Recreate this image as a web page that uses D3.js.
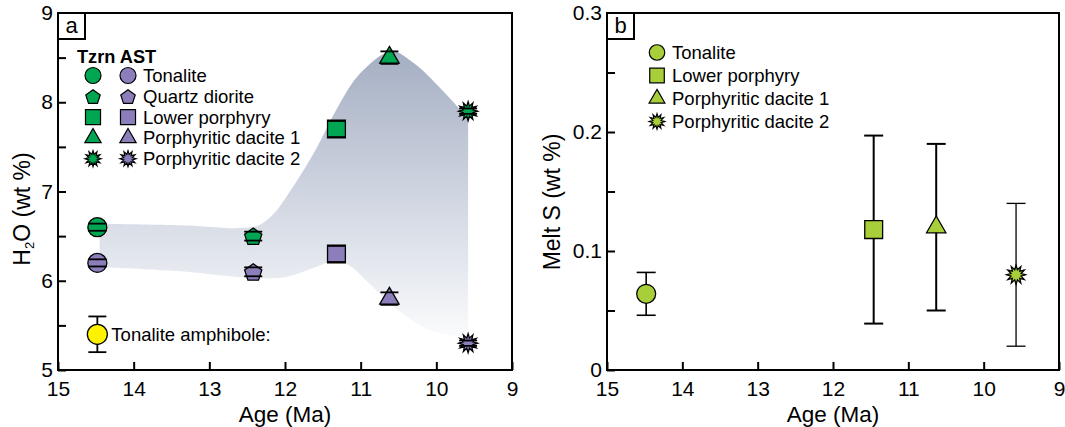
<!DOCTYPE html>
<html>
<head>
<meta charset="utf-8">
<script src="https://cdn.jsdelivr.net/npm/d3@7"></script>
<style>
  html, body { margin: 0; padding: 0; background: #fff; }
  svg { display: block; font-family: "Liberation Sans", Arial, sans-serif; }
</style>
</head>
<body>
<svg id="chart" width="1065" height="427"></svg>
<script>
// ---------------- DATA ----------------
const rockTypes = ["Tonalite", "Quartz diorite", "Lower porphyry", "Porphyritic dacite 1", "Porphyritic dacite 2"];
const rockShapes = ["circle", "pentagon", "square", "triangle", "star"];
const rockAges = [14.48, 12.42, 11.32, 10.62, 9.58];
const h2oTzrn = [6.6, 6.5, 7.7, 8.5, 7.9];
const h2oTzrnErr = [0.04, 0.05, 0.09, 0.07, 0.03];
const h2oAst = [6.2, 6.1, 6.3, 5.8, 5.3];
const h2oAstErr = [0.04, 0.05, 0.09, 0.07, 0.03];
const amphAge = [14.48];
const amphH2o = [5.4];
const amphErr = [0.2];

// envelope (shaded field) outline
const envUpper = [[14.45, 6.64], [13.3, 6.62], [12.6, 6.59], [12.35, 6.62], [12.15, 6.75], [11.95, 6.98],
                  [11.6, 7.46], [11.3, 7.95], [11.0, 8.33], [10.6, 8.57], [10.3, 8.44], [9.95, 8.16], [9.58, 7.82]];
const envLower = [[9.58, 5.27], [9.7, 5.36], [10.1, 5.45], [10.55, 5.7], [10.9, 5.98], [11.15, 6.17],
                  [11.35, 6.22], [11.6, 6.15], [12.0, 6.04], [12.6, 6.04], [13.3, 6.1], [14.45, 6.15]];

const sTypes = ["Tonalite", "Lower porphyry", "Porphyritic dacite 1", "Porphyritic dacite 2"];
const sShapes = ["circle", "square", "triangle", "star"];
const sAges = [14.48, 11.46, 10.63, 9.57];
const meltS = [0.064, 0.118, 0.12, 0.08];
const meltSErr = [0.018, 0.079, 0.07, 0.06];

const xTicks = [15, 14, 13, 12, 11, 10, 9];
const h2oTicks = [5, 6, 7, 8, 9];
const h2oMinor = [5.5, 6.5, 7.5, 8.5];
const sTicks = [0, 0.1, 0.2, 0.3];
const sMinor = [0.05, 0.15, 0.25];

// ---------------- STYLE ----------------
const C_TZRN = "#00a651", C_AST = "#8c7dbb", C_AMPH = "#fff200", C_S = "#a8cf3a";
const sErrWidth = [1.6, 2, 2, 1.3];

const svg = d3.select("#chart");

function shapePath(type, s) {
  const r = s / 2;
  if (type === "circle") return d3.symbol(d3.symbolCircle, Math.PI * r * r)();
  if (type === "square") { const h = s * 0.47; return `M${-h},${-h}H${h}V${h}H${-h}Z`; }
  if (type === "triangle") {
    const side = s * 1.02, ht = side * Math.sqrt(3) / 2;
    return `M0,${-ht * 2 / 3}L${side / 2},${ht / 3}L${-side / 2},${ht / 3}Z`;
  }
  if (type === "pentagon") {
    const rr = r * 0.95; let p = "";
    for (let i = 0; i < 5; i++) {
      const a = -Math.PI / 2 + i * 2 * Math.PI / 5;
      p += (i ? "L" : "M") + (rr * Math.cos(a)).toFixed(2) + "," + (rr * Math.sin(a) + 1).toFixed(2);
    }
    return p + "Z";
  }
  if (type === "star") {
    const n = 12, ro = r * 1.0, ri = r * 0.55; let p = "";
    for (let i = 0; i < 2 * n; i++) {
      const a = -Math.PI / 2 + i * Math.PI / n, rad = i % 2 ? ri : ro;
      p += (i ? "L" : "M") + (rad * Math.cos(a)).toFixed(2) + "," + (rad * Math.sin(a)).toFixed(2);
    }
    return p + "Z";
  }
}

function drawMarker(g, type, x, y, size, fill, sw) {
  g.append("path").attr("d", shapePath(type, size))
    .attr("transform", `translate(${x},${y})`)
    .attr("fill", fill).attr("stroke", "#000").attr("stroke-width", sw || 1.2)
    .attr("stroke-linejoin", "miter");
}

function errBar(g, x, y0, y1, sw) {
  g.append("line").attr("x1", x).attr("x2", x).attr("y1", y0).attr("y2", y1)
    .attr("stroke", "#000").attr("stroke-width", sw);
}
function caps(g, x, y0, y1, capW, sw) {
  [y0, y1].forEach(yy => g.append("line").attr("x1", x - capW / 2).attr("x2", x + capW / 2)
    .attr("y1", yy).attr("y2", yy).attr("stroke", "#000").attr("stroke-width", sw));
}

function frameAxes(x, y, majorY, minorY, yFmt, panelLabel) {
  const g = svg.append("g");
  const [x0, x1] = x.range(), [yb, yt] = y.range();
  const ax = g.append("g").attr("transform", `translate(0,${yb})`)
    .call(d3.axisBottom(x).tickValues(xTicks).tickSize(-8).tickPadding(11).tickFormat(d3.format("d")));
  const ayMin = g.append("g").attr("transform", `translate(${x0},0)`)
    .call(d3.axisLeft(y).tickValues(minorY).tickSize(-8).tickFormat(""));
  const ay = g.append("g").attr("transform", `translate(${x0},0)`)
    .call(d3.axisLeft(y).tickValues(majorY).tickSize(-8).tickPadding(5).tickFormat(yFmt));
  [ax, ay, ayMin].forEach(a => {
    a.select(".domain").remove();
    a.selectAll(".tick line").attr("stroke", "#000").attr("stroke-width", 2);
    a.selectAll("text").attr("font-size", 21).attr("fill", "#000")
      .attr("font-family", "'Liberation Sans', Arial, sans-serif");
  });
  g.append("rect").attr("x", x0).attr("y", yt).attr("width", x1 - x0).attr("height", yb - yt)
    .attr("fill", "none").attr("stroke", "#000").attr("stroke-width", 2);
  g.append("rect").attr("x", x0).attr("y", yt).attr("width", 27).attr("height", 26)
    .attr("fill", "#fff").attr("stroke", "#000").attr("stroke-width", 2);
  g.append("text").attr("x", x0 + 13.5).attr("y", yt + 20).attr("text-anchor", "middle")
    .attr("font-size", 22).text(panelLabel);
  return g;
}

// ================= PANEL A =================
const xa = d3.scaleLinear().domain([15, 9]).range([58, 512]);
const ya = d3.scaleLinear().domain([5, 9]).range([370, 13]);

const defs = svg.append("defs");
const grad = defs.append("linearGradient").attr("id", "envGrad")
  .attr("gradientUnits", "userSpaceOnUse")
  .attr("x1", 0).attr("x2", 0).attr("y1", ya(8.6)).attr("y2", ya(5.2));
grad.append("stop").attr("offset", 0).attr("stop-color", "#a4aec2");
grad.append("stop").attr("offset", 0.6).attr("stop-color", "#dadfe8");
grad.append("stop").attr("offset", 1).attr("stop-color", "#ffffff");

const lineGen = d3.line().x(d => xa(d[0])).y(d => ya(d[1])).curve(d3.curveCatmullRom.alpha(0.5));
const upperStr = lineGen(envUpper);
const lowerStr = lineGen(envLower);
svg.append("path").attr("d", upperStr + "L" + lowerStr.slice(1) + "Z")
  .attr("fill", "url(#envGrad)").attr("stroke", "none");

frameAxes(xa, ya, h2oTicks, h2oMinor, d3.format("d"), "a");

const gA = svg.append("g");
function drawPointA(type, age, val, err, fill) {
  const px = xa(age), py = ya(val), y0 = ya(val + err), y1 = ya(val - err);
  errBar(gA, px, y0, y1, 1.8);
  drawMarker(gA, type, px, py, 19, fill, 1.3);
  caps(gA, px, y0, y1, 18, 1.8);
}
rockTypes.forEach((t, i) => {
  drawPointA(rockShapes[i], rockAges[i], h2oTzrn[i], h2oTzrnErr[i], C_TZRN);
  drawPointA(rockShapes[i], rockAges[i], h2oAst[i], h2oAstErr[i], C_AST);
});
amphAge.forEach((a, i) => {
  const px = xa(a), y0 = ya(amphH2o[i] + amphErr[i]), y1 = ya(amphH2o[i] - amphErr[i]);
  errBar(gA, px, y0, y1, 1.8);
  caps(gA, px, y0, y1, 18, 1.8);
  drawMarker(gA, "circle", px, ya(amphH2o[i]), 20, C_AMPH, 1.3);
  gA.append("text").attr("x", px + 14).attr("y", ya(amphH2o[i]) + 6.5)
    .attr("font-size", 18.5).text("Tonalite amphibole:");
});

// legend A
const lgA = svg.append("g");
lgA.append("text").attr("x", 77).attr("y", 63).attr("font-size", 18.2).attr("font-weight", "bold").text("Tzrn AST");
rockTypes.forEach((t, i) => {
  const cy = 75.5 + i * 20.8;
  drawMarker(lgA, rockShapes[i], 93, cy, 16, C_TZRN, 1.2);
  drawMarker(lgA, rockShapes[i], 128, cy, 16, C_AST, 1.2);
  lgA.append("text").attr("x", 143).attr("y", cy + 6.5).attr("font-size", 18.5).text(t);
});

// axis titles A
svg.append("text").attr("x", 285).attr("y", 422).attr("text-anchor", "middle").attr("font-size", 22.5).text("Age (Ma)");
const yt = svg.append("text").attr("transform", "translate(30,209) rotate(-90)").attr("text-anchor", "middle").attr("font-size", 23);
yt.append("tspan").text("H");
yt.append("tspan").attr("font-size", 13).attr("dy", 4).text("2");
yt.append("tspan").attr("dy", -4).text("O (wt %)");

// ================= PANEL B =================
const xb = d3.scaleLinear().domain([15, 9]).range([607, 1059]);
const yb = d3.scaleLinear().domain([0, 0.3]).range([370, 13]);
frameAxes(xb, yb, sTicks, sMinor, d => d === 0 ? "0" : d3.format(".1f")(d), "b");

const gB = svg.append("g");
sTypes.forEach((t, i) => {
  const px = xb(sAges[i]), y0 = yb(meltS[i] + meltSErr[i]), y1 = yb(meltS[i] - meltSErr[i]);
  errBar(gB, px, y0, y1, sErrWidth[i]);
  caps(gB, px, y0, y1, 19, sErrWidth[i]);
  drawMarker(gB, sShapes[i], px, yb(meltS[i]), 19, C_S, 1.3);
});

// legend B
const lgB = svg.append("g");
sTypes.forEach((t, i) => {
  const cy = 52.5 + i * 23;
  drawMarker(lgB, sShapes[i], 657, cy, 15.5, C_S, 1.2);
  lgB.append("text").attr("x", 672).attr("y", cy + 6.5).attr("font-size", 18.5).text(t);
});

svg.append("text").attr("x", 833).attr("y", 422).attr("text-anchor", "middle").attr("font-size", 22.5).text("Age (Ma)");
svg.append("text").attr("transform", "translate(560,202) rotate(-90)").attr("text-anchor", "middle").attr("font-size", 23).text("Melt S (wt %)");
</script>
</body>
</html>
